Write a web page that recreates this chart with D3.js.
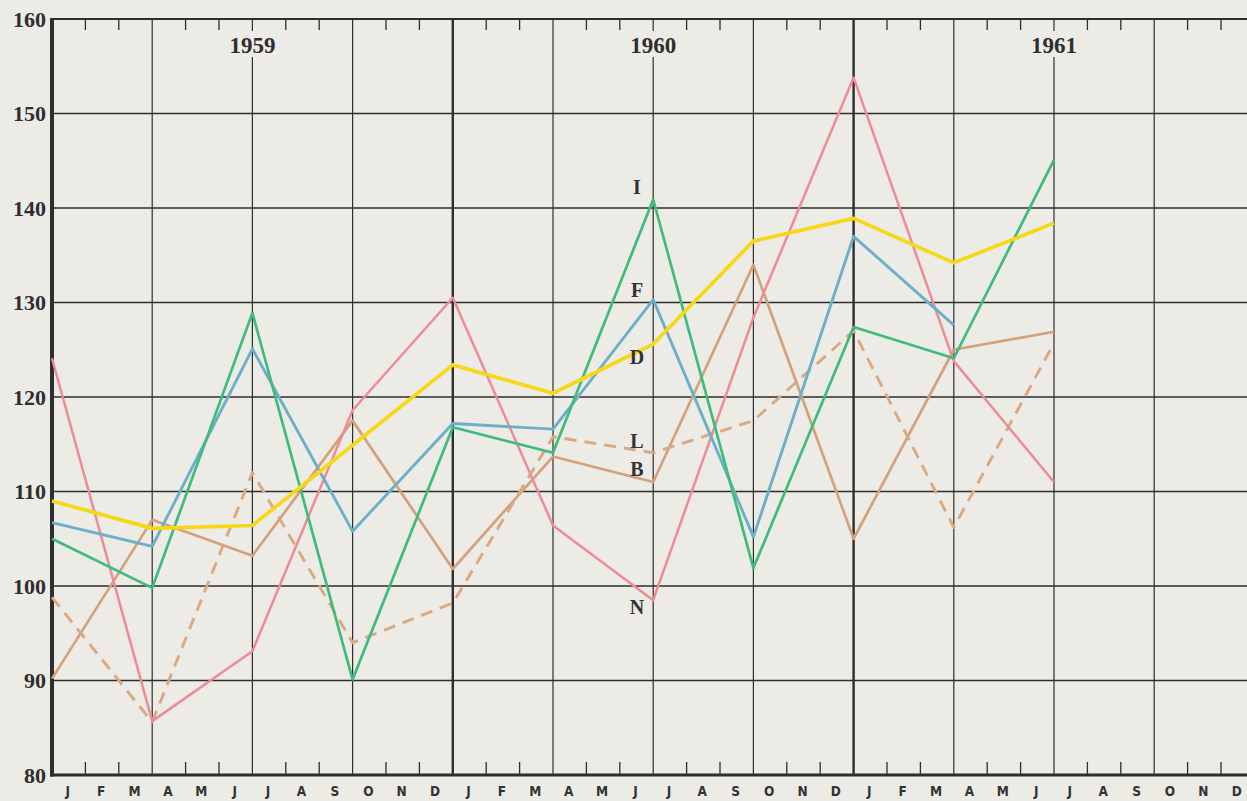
<!DOCTYPE html>
<html>
<head>
<meta charset="utf-8">
<script src="https://cdn.jsdelivr.net/npm/d3@7/dist/d3.min.js"></script>
<style>
  html, body { margin: 0; padding: 0; background: #ecebe6; }
  svg { display: block; }
</style>
</head>
<body>
<svg id="chart" width="1247" height="801"></svg>
<script>
// data points sit on the quarter lines (month index from Jan 1959)
const monthIdx = [0, 3, 6, 9, 12, 15, 18, 21, 24, 27, 30];
const years = ["1959", "1960", "1961"];
const monthLetters = ["J", "F", "M", "A", "M", "J", "J", "A", "S", "O", "N", "D"];
const yTicks = [80, 90, 100, 110, 120, 130, 140, 150, 160];

// series
const valuesD = [109.0, 106.1, 106.4, 114.9, 123.4, 120.4, 125.6, 136.5, 138.9, 134.2, 138.4];
const valuesI = [105.0, 99.8, 128.9, 90.1, 116.8, 114.1, 140.9, 101.9, 127.4, 124.1, 145.1];
const valuesF = [106.7, 104.2, 125.1, 105.8, 117.2, 116.6, 130.3, 105.2, 137.0, 127.6];
const valuesN = [124.1, 85.7, 93.1, 118.6, 130.5, 106.4, 98.5, 128.4, 153.8, 123.8, 111.0];
const valuesB = [90.2, 107.0, 103.2, 117.5, 101.8, 113.7, 111.0, 134.0, 105.0, 125.0, 126.9];
const valuesL = [98.8, 85.6, 112.0, 94.0, 98.2, 115.8, 114.1, 117.5, 127.0, 106.2, 125.7];

// series letters beside the July 1960 line
const seriesNames = ["I", "F", "D", "L", "B", "N"];
const nameValues = [142.2, 131.3, 124.2, 115.3, 112.4, 97.8];

const svg = d3.select("#chart");
const bg = "#ecebe6";
const ink = "#2e2e2e";

let x = d3.scaleLinear().domain([0, 36]).range([52, 52 + 36 * 33.4]);
let y = d3.scaleLinear().domain([80, 160]).range([775, 19]);

// horizontal grid
svg.append("g").selectAll("line").data(yTicks.filter(d => d > 80 && d < 160)).enter()
  .append("line")
  .attr("x1", x(0)).attr("x2", 1247)
  .attr("y1", d => y(d)).attr("y2", d => y(d))
  .attr("stroke", ink).attr("stroke-width", 1.3);

// vertical quarter lines, thicker at the year boundaries
let quarterIdx = d3.range(3, 37, 3);
svg.append("g").selectAll("line").data(quarterIdx).enter()
  .append("line")
  .attr("x1", d => x(d)).attr("x2", d => x(d))
  .attr("y1", y(160)).attr("y2", y(80))
  .attr("stroke", ink)
  .attr("stroke-width", d => d % 12 == 0 ? 2.4 : 1.2);

// month ticks top and bottom
let monthTicks = d3.range(1, 37).filter(d => d % 3 != 0);
svg.append("g").selectAll("line").data(monthTicks).enter()
  .append("line")
  .attr("x1", d => x(d)).attr("x2", d => x(d))
  .attr("y1", y(160)).attr("y2", y(160) + 11)
  .attr("stroke", ink).attr("stroke-width", 1.3);
svg.append("g").selectAll("line").data(monthTicks).enter()
  .append("line")
  .attr("x1", d => x(d)).attr("x2", d => x(d))
  .attr("y1", y(80)).attr("y2", y(80) - 13)
  .attr("stroke", ink).attr("stroke-width", 1.3);

// frame: top line, thick left and bottom axes
svg.append("line").attr("x1", x(0)).attr("x2", 1247).attr("y1", y(160)).attr("y2", y(160))
  .attr("stroke", ink).attr("stroke-width", 2);
svg.append("line").attr("x1", x(0) - 2).attr("x2", 1247).attr("y1", y(80)).attr("y2", y(80))
  .attr("stroke", ink).attr("stroke-width", 3.2);
svg.append("line").attr("x1", x(0)).attr("x2", x(0)).attr("y1", y(160) - 1).attr("y2", y(80) + 1.5)
  .attr("stroke", ink).attr("stroke-width", 4);

// year labels, masking the mid-year line
let yearG = svg.append("g").selectAll("g").data(years).enter().append("g")
  .attr("transform", (d, i) => "translate(" + x(i * 12 + 6) + ",0)");
yearG.append("rect")
  .attr("x", -34).attr("width", 68)
  .attr("y", y(160) + 12).attr("height", 26)
  .attr("fill", bg);
yearG.append("text")
  .attr("y", 53)
  .attr("text-anchor", "middle")
  .attr("font-family", "'Liberation Serif', 'DejaVu Serif', serif")
  .attr("font-weight", "bold")
  .attr("font-size", 23)
  .attr("fill", ink)
  .text(d => d);

// y labels
svg.append("g").selectAll("text").data(yTicks).enter()
  .append("text")
  .attr("x", 46)
  .attr("y", d => y(d))
  .attr("dy", "0.35em")
  .attr("text-anchor", "end")
  .attr("font-family", "'Liberation Serif', 'DejaVu Serif', serif")
  .attr("font-weight", "bold")
  .attr("font-size", 22)
  .attr("fill", ink)
  .text(d => d);

// month letters
let allMonths = d3.range(36);
svg.append("g").selectAll("text").data(allMonths).enter()
  .append("text")
  .attr("x", d => x(d + 0.5) - 1)
  .attr("y", 796)
  .attr("text-anchor", "middle")
  .attr("font-family", "'DejaVu Sans Condensed', 'DejaVu Sans', sans-serif")
  .attr("font-weight", "bold")
  .attr("font-size", 13.5)
  .attr("fill", "#333")
  .text(d => monthLetters[d % 12]);

// the series
let lineGen = d3.line()
  .x((d, i) => x(monthIdx[i]))
  .y(d => y(d));

let series = [
  { vals: valuesB, color: "#d3a27c", width: 2.7, dash: null },
  { vals: valuesL, color: "#d9aa82", width: 2.9, dash: "12,8" },
  { vals: valuesN, color: "#ee8b96", width: 2.5, dash: null },
  { vals: valuesF, color: "#6eafc8", width: 2.9, dash: null },
  { vals: valuesI, color: "#3fbb7c", width: 2.7, dash: null },
  { vals: valuesD, color: "#f6d816", width: 3.7, dash: null }
];
svg.append("g").selectAll("path").data(series).enter()
  .append("path")
  .attr("d", d => lineGen(d.vals))
  .attr("fill", "none")
  .attr("stroke", d => d.color)
  .attr("stroke-width", d => d.width)
  .attr("stroke-dasharray", d => d.dash)
  .attr("stroke-linejoin", "round");

svg.append("g").selectAll("text").data(seriesNames).enter()
  .append("text")
  .attr("x", 637)
  .attr("y", (d, i) => y(nameValues[i]))
  .attr("dy", "0.35em")
  .attr("text-anchor", "middle")
  .attr("font-family", "'Liberation Serif', 'DejaVu Serif', serif")
  .attr("font-weight", "bold")
  .attr("font-size", 20)
  .attr("fill", "#333")
  .text(d => d);
</script>
</body>
</html>
